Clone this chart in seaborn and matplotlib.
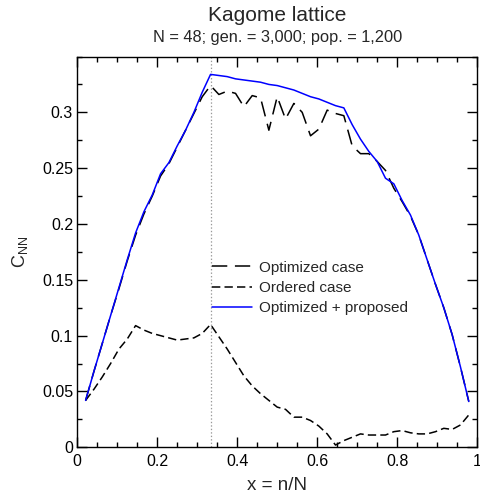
import numpy as np
import pandas as pd
import matplotlib
matplotlib.use("Agg")
import matplotlib.pyplot as plt
import seaborn as sns

N = 48
n = list(range(1, 48))

optimized_case = [0.042, 0.068, 0.093, 0.118, 0.142, 0.167, 0.190, 0.209, 0.225, 0.243,
                  0.254, 0.269, 0.284, 0.299, 0.314, 0.324, 0.316, 0.319, 0.317, 0.305,
                  0.315, 0.313, 0.284, 0.314, 0.294, 0.308, 0.300, 0.279, 0.285, 0.302,
                  0.299, 0.297, 0.270, 0.263, 0.263, 0.256, 0.248, 0.232, 0.220, 0.207,
                  0.190, 0.168, 0.146, 0.125, 0.101, 0.072, 0.041]

ordered_case = [0.042, 0.052, 0.063, 0.075, 0.088, 0.097, 0.109, 0.105, 0.102, 0.100,
                0.098, 0.096, 0.097, 0.098, 0.102, 0.110, 0.099, 0.088, 0.076, 0.064,
                0.055, 0.048, 0.042, 0.036, 0.034, 0.027, 0.027, 0.024, 0.019, 0.012,
                0.002, 0.006, 0.009, 0.012, 0.011, 0.011, 0.011, 0.014, 0.015, 0.013,
                0.012, 0.012, 0.014, 0.017, 0.016, 0.020, 0.029]

optimized_proposed = [0.042, 0.068, 0.093, 0.118, 0.143, 0.168, 0.192, 0.211, 0.226, 0.245,
                      0.255, 0.270, 0.284, 0.300, 0.318, 0.334, 0.333, 0.332, 0.330, 0.329,
                      0.328, 0.327, 0.325, 0.324, 0.322, 0.320, 0.317, 0.314, 0.312, 0.309,
                      0.306, 0.304, 0.289, 0.276, 0.265, 0.256, 0.241, 0.236, 0.221, 0.208,
                      0.190, 0.168, 0.146, 0.125, 0.101, 0.072, 0.041]

labels = ["Optimized case", "Ordered case", "Optimized + proposed"]
x_ticks = [0, 0.2, 0.4, 0.6, 0.8, 1]
x_tick_labels = ["0", "0.2", "0.4", "0.6", "0.8", "1"]
y_ticks = [0, 0.05, 0.1, 0.15, 0.2, 0.25, 0.3]
y_tick_labels = ["0", "0.05", "0.1", "0.15", "0.2", "0.25", "0.3"]

x = np.array(n) / N
df = pd.concat([
    pd.DataFrame({"x": x, "C": optimized_case, "series": labels[0]}),
    pd.DataFrame({"x": x, "C": ordered_case, "series": labels[1]}),
    pd.DataFrame({"x": x, "C": optimized_proposed, "series": labels[2]}),
])

sns.set_style("ticks")
plt.rcParams["font.family"] = ["Liberation Sans", "DejaVu Sans"]
plt.rcParams["mathtext.fontset"] = "custom"
plt.rcParams["mathtext.rm"] = "Liberation Sans"
plt.rcParams["mathtext.it"] = "Liberation Sans:italic"
plt.rcParams["lines.scale_dashes"] = False

fig = plt.figure(figsize=(4.8, 4.98), dpi=100)
ax = fig.add_axes([0.161, 0.1018, 0.833, 0.7847])

ax.axvline(1 / 3, color="#999999", linestyle=(0, (1, 1.5)), linewidth=0.9, zorder=1)

sns.lineplot(data=df, x="x", y="C", hue="series", style="series",
             hue_order=labels, style_order=labels,
             palette={labels[0]: "black", labels[1]: "black", labels[2]: "#0000ff"},
             dashes={labels[0]: (11, 5.5), labels[1]: (6, 3), labels[2]: ""},
             linewidth=1.1, ax=ax, legend=False, zorder=3)

lines = ax.get_lines()[1:]
for ln, lab in zip(lines, labels):
    ln.set_label(lab)

ax.set_xlim(0, 1)
ax.set_ylim(0, 0.35)
ax.set_xticks(x_ticks)
ax.set_xticklabels(x_tick_labels)
ax.set_yticks(y_ticks)
ax.set_yticklabels(y_tick_labels)
ax.set_xticks(np.arange(0, 1.0001, 0.05), minor=True)
ax.set_yticks(np.arange(0, 0.35001, 0.025), minor=True)
ax.tick_params(which="both", direction="in", top=True, right=True, colors="black",
               labelsize=11.5, width=1.0)
ax.tick_params(which="major", length=7)
ax.tick_params(which="minor", length=3.5)
ax.tick_params(axis="x", pad=5)
ax.tick_params(axis="y", pad=3)
for sp in ax.spines.values():
    sp.set_visible(True)
    sp.set_color("black")
    sp.set_linewidth(1.0)

ax.set_xlabel("x = n/N", fontsize=13.5)
ax.xaxis.set_label_coords(0.5, -0.109)
ax.xaxis.label.set_va("baseline")
ax.set_ylabel(r"$\mathregular{C_{NN}}$", fontsize=13)
ax.yaxis.set_label_coords(-0.118, 0.5)

leg = ax.legend(loc="upper left", bbox_to_anchor=(0.31, 0.505), frameon=False,
                fontsize=11, handlelength=2.6, handletextpad=0.5, labelspacing=0.42,
                borderpad=0.2)

fig.text(0.578, 0.9584, "Kagome lattice", ha="center", va="baseline", fontsize=15)
fig.text(0.578, 0.9163, "N = 48; gen. = 3,000; pop. = 1,200", ha="center", va="baseline",
         fontsize=11.8)

fig.savefig("out.png", dpi=100)
